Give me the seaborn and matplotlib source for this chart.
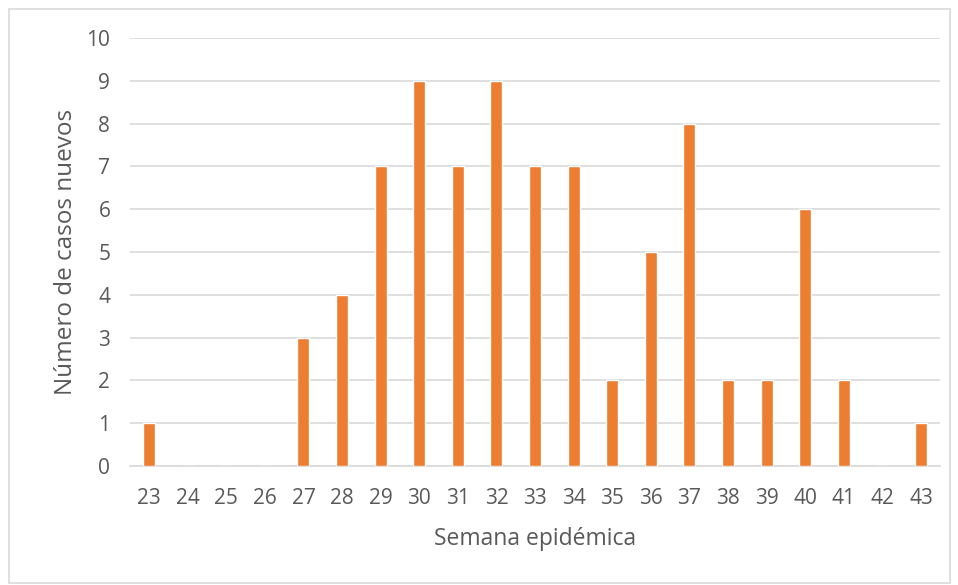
import matplotlib
matplotlib.use('Agg')
import matplotlib.pyplot as plt
import seaborn as sns
import pandas as pd
from matplotlib.patches import Rectangle

# --- datos ---
semanas = [23, 24, 25, 26, 27, 28, 29, 30, 31, 32, 33, 34, 35, 36, 37, 38, 39, 40, 41, 42, 43]
casos = [1, 0, 0, 0, 3, 4, 7, 9, 7, 9, 7, 7, 2, 5, 8, 2, 2, 6, 2, 0, 1]

BAR_COLOR = '#ED7D31'
TEXT_COLOR = '#595959'
GRID_COLOR = '#D9D9D9'

sns.set_style('white')
plt.rcParams['font.family'] = ['Open Sans', 'DejaVu Sans']

df = pd.DataFrame({'Semana': [str(s) for s in semanas], 'Casos': casos})

fig = plt.figure(figsize=(9.58, 5.85), dpi=100)
ax = fig.add_axes([0.1355, 0.2034, 0.846, 0.7316])

sns.barplot(data=df, x='Semana', y='Casos', color=BAR_COLOR, width=0.31,
            saturation=1, ax=ax, zorder=3)

ax.set_ylim(0, 10)
ax.set_yticks(range(0, 11))
ax.set_xlim(-0.5, len(semanas) - 0.5)
ax.yaxis.grid(True, color=GRID_COLOR, linewidth=1.2, zorder=0)
ax.set_axisbelow(True)
for s in ['top', 'right', 'left']:
    ax.spines[s].set_visible(False)
ax.spines['bottom'].set_color(GRID_COLOR)
ax.spines['bottom'].set_linewidth(1.2)

ax.tick_params(axis='both', length=0, labelsize=15, colors=TEXT_COLOR)
ax.tick_params(axis='x', pad=16)
ax.tick_params(axis='y', pad=14)

ax.set_xlabel('Semana epidémica', fontsize=16.5, color=TEXT_COLOR, labelpad=13)
ax.set_ylabel('Número de casos nuevos', fontsize=17.5, color=TEXT_COLOR, labelpad=6)

# marco exterior
fig.patches.append(Rectangle((9 / 958, 2 / 585), 941 / 958, 574 / 585,
                             transform=fig.transFigure, fill=False,
                             edgecolor='#D9D9D9', linewidth=1.2))

fig.savefig('out.png', dpi=100)
